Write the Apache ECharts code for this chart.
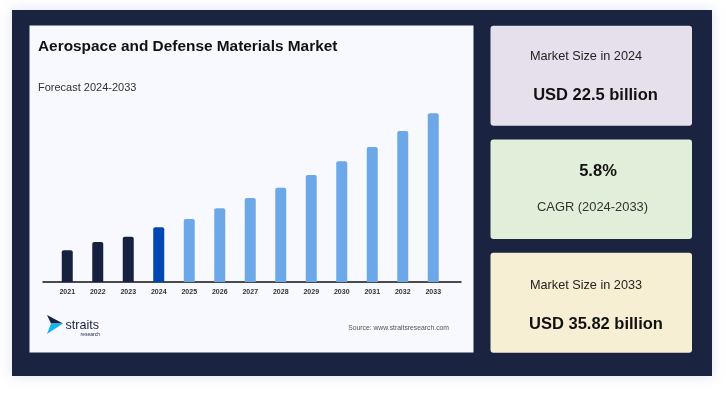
<!DOCTYPE html>
<html>
<head>
<meta charset="utf-8">
<script src="https://cdn.jsdelivr.net/npm/echarts@6/dist/echarts.min.js"></script>
<style>
html,body{margin:0;padding:0;background:#ffffff;}
#chart{width:726px;height:395px;}
</style>
</head>
<body>
<div id="chart"></div>
<script>
var years = ['2021','2022','2023','2024','2025','2026','2027','2028','2029','2030','2031','2032','2033'];
var marketSize = [19.81, 20.78, 21.40, 22.5, 23.47, 24.72, 25.92, 27.13, 28.61, 30.21, 31.88, 33.75, 35.82];
var baseYear = '2024';

var FONT = '"Liberation Sans", Arial, sans-serif';
var NAVY = '#1a2340';

function barColor(y) {
  if (y < baseYear) return '#16203f';
  if (y === baseYear) return '#0047b3';
  return '#6ca8e8';
}

var chart = echarts.init(document.getElementById('chart'), null, {renderer: 'canvas'});

var option = {
  backgroundColor: '#ffffff',
  animation: false,
  textStyle: {fontFamily: FONT},
  grid: [
    {left: 52, right: 277.5, top: 100, bottom: 113},
    {left: 43, right: 265, top: 100, bottom: 113}
  ],
  xAxis: [
    {
      type: 'category', gridIndex: 0, data: years,
      axisLine: {show: false}, axisTick: {show: false},
      axisLabel: {color: '#333', fontSize: 7, fontWeight: 'bold', margin: 7, fontFamily: FONT, interval: 0}
    },
    {
      type: 'category', gridIndex: 1, data: years,
      axisLine: {show: true, lineStyle: {color: '#111', width: 1.5}},
      axisTick: {show: false}, axisLabel: {show: false}
    }
  ],
  yAxis: [
    {type: 'value', gridIndex: 0, min: 16.11, max: 37.37, show: false, splitLine: {show: false}},
    {type: 'value', gridIndex: 1, min: 0, max: 1, show: false, splitLine: {show: false}}
  ],
  series: [{
    type: 'bar', xAxisIndex: 0, yAxisIndex: 0, barWidth: 11,
    data: marketSize.map(function (v, i) {
      return {value: v, itemStyle: {color: barColor(years[i]), borderRadius: [2, 2, 0, 0]}};
    })
  }],
  graphic: [
    {type: 'rect', z: -10, shape: {x: 12, y: 10, width: 700, height: 366},
      style: {fill: NAVY, shadowBlur: 12, shadowColor: 'rgba(120,140,190,0.25)'}},
    {type: 'rect', z: -9, shape: {x: 29.5, y: 25.5, width: 444, height: 327}, style: {fill: '#f8f9fe'}},
    {type: 'rect', z: -9, shape: {x: 490.5, y: 25.8, width: 201.5, height: 100, r: 3}, style: {fill: '#e6e0ec'}},
    {type: 'rect', z: -9, shape: {x: 490.5, y: 139.5, width: 201.5, height: 99.5, r: 3}, style: {fill: '#e1eed9'}},
    {type: 'rect', z: -9, shape: {x: 490.5, y: 252.8, width: 201.5, height: 100, r: 3}, style: {fill: '#f7efd4'}},
    {type: 'text', x: 38, y: 47, style: {text: 'Aerospace and Defense Materials Market', fill: '#111', font: 'bold 15.4px ' + FONT, textVerticalAlign: 'middle'}},
    {type: 'text', x: 38, y: 88, style: {text: 'Forecast 2024-2033', fill: '#333', font: '11px ' + FONT, textVerticalAlign: 'middle'}},
    {type: 'text', x: 449, y: 328.5, style: {text: 'Source: www.straitsresearch.com', fill: '#555', font: '6.8px ' + FONT, textAlign: 'right', textVerticalAlign: 'middle'}},
    {type: 'polygon', shape: {points: [[47, 315], [63, 323.5], [51, 323.5]]}, style: {fill: '#16203f'}},
    {type: 'polygon', shape: {points: [[51, 323.5], [63, 323.5], [47, 334]]}, style: {fill: '#14b4f0'}},
    {type: 'text', x: 65.5, y: 325.5, style: {text: 'straits', fill: NAVY, font: '12.6px ' + FONT, textVerticalAlign: 'middle'}},
    {type: 'text', x: 100, y: 334.5, style: {text: 'research', fill: NAVY, font: '5px ' + FONT, textAlign: 'right', textVerticalAlign: 'middle'}},
    {type: 'text', x: 586, y: 56.7, style: {text: 'Market Size in 2024', fill: '#222', font: '12.7px ' + FONT, textAlign: 'center', textVerticalAlign: 'middle'}},
    {type: 'text', x: 595.5, y: 95, style: {text: 'USD 22.5 billion', fill: '#111', font: 'bold 16.5px ' + FONT, textAlign: 'center', textVerticalAlign: 'middle'}},
    {type: 'text', x: 598, y: 171, style: {text: '5.8%', fill: '#111', font: 'bold 16.5px ' + FONT, textAlign: 'center', textVerticalAlign: 'middle'}},
    {type: 'text', x: 592.5, y: 207.7, style: {text: 'CAGR (2024-2033)', fill: '#333', font: '12.9px ' + FONT, textAlign: 'center', textVerticalAlign: 'middle'}},
    {type: 'text', x: 586, y: 285, style: {text: 'Market Size in 2033', fill: '#222', font: '12.7px ' + FONT, textAlign: 'center', textVerticalAlign: 'middle'}},
    {type: 'text', x: 596, y: 324, style: {text: 'USD 35.82 billion', fill: '#111', font: 'bold 16.5px ' + FONT, textAlign: 'center', textVerticalAlign: 'middle'}}
  ]
};
chart.setOption(option);
</script>
</body>
</html>
